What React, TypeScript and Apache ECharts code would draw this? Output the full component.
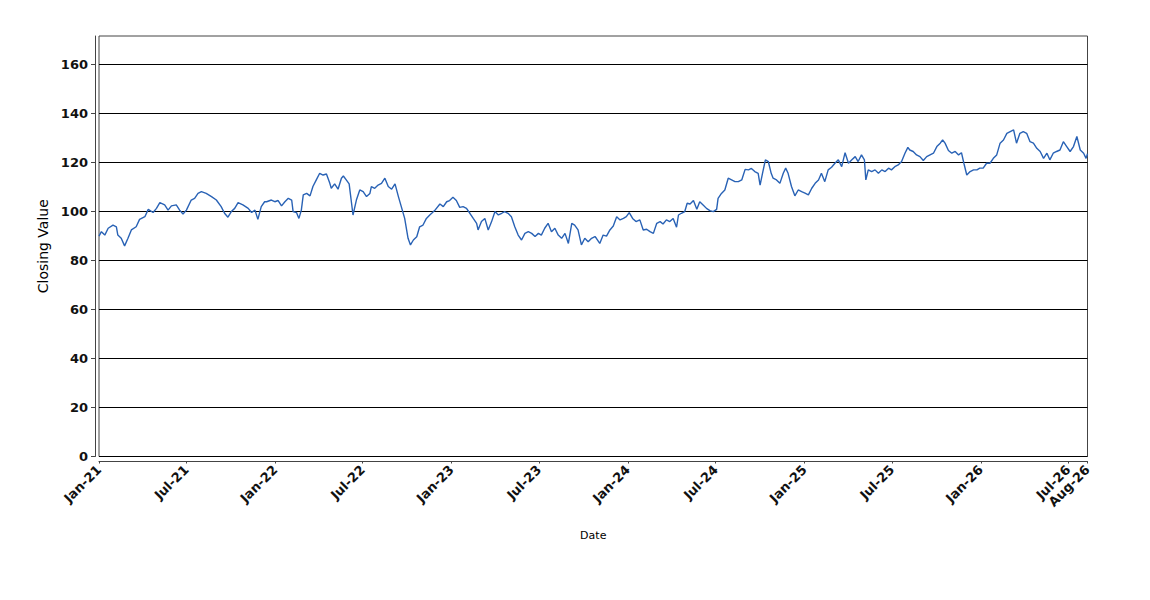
import React, { useEffect, useRef } from 'react';
import * as echarts from 'echarts';

const dates: string[] = [
  '2021-01-01','2021-01-06','2021-01-13','2021-01-20','2021-01-30','2021-02-06','2021-02-09','2021-02-16','2021-02-23','2021-03-02',
  '2021-03-09','2021-03-19','2021-03-26','2021-04-06','2021-04-13','2021-04-23','2021-04-30','2021-05-07','2021-05-17','2021-05-24',
  '2021-05-31','2021-06-10','2021-06-17','2021-06-24','2021-07-01','2021-07-11','2021-07-18','2021-07-25','2021-08-01','2021-08-11',
  '2021-08-22','2021-09-01','2021-09-11','2021-09-18','2021-09-25','2021-10-02','2021-10-09','2021-10-16','2021-10-26','2021-11-06',
  '2021-11-13','2021-11-20','2021-11-26','2021-12-03','2021-12-10','2021-12-14','2021-12-24','2021-12-31','2022-01-07','2022-01-14',
  '2022-01-21','2022-01-28','2022-02-04','2022-02-07','2022-02-14','2022-02-19','2022-02-24','2022-02-28','2022-03-07','2022-03-14',
  '2022-03-20','2022-03-27','2022-04-03','2022-04-10','2022-04-17','2022-04-24','2022-04-27','2022-05-04','2022-05-11','2022-05-18',
  '2022-05-22','2022-05-28','2022-06-03','2022-06-08','2022-06-11','2022-06-18','2022-06-25','2022-07-02','2022-07-09','2022-07-16',
  '2022-07-19','2022-07-26','2022-08-02','2022-08-09','2022-08-16','2022-08-23','2022-08-30','2022-09-06','2022-09-13','2022-09-19',
  '2022-09-26','2022-10-03','2022-10-08','2022-10-14','2022-10-21','2022-10-27','2022-11-03','2022-11-10','2022-11-17','2022-11-21',
  '2022-11-27','2022-12-08','2022-12-15','2022-12-22','2022-12-28','2023-01-04','2023-01-11','2023-01-18','2023-01-25','2023-02-01',
  '2023-02-08','2023-02-15','2023-02-22','2023-02-25','2023-03-04','2023-03-11','2023-03-18','2023-03-25','2023-04-01','2023-04-08',
  '2023-04-15','2023-04-21','2023-04-28','2023-05-05','2023-05-12','2023-05-19','2023-05-26','2023-06-02','2023-06-09','2023-06-16',
  '2023-06-23','2023-06-30','2023-07-06','2023-07-13','2023-07-20','2023-07-27','2023-08-03','2023-08-10','2023-08-17','2023-08-24',
  '2023-08-31','2023-09-07','2023-09-13','2023-09-20','2023-09-27','2023-10-04','2023-10-11','2023-10-18','2023-10-25','2023-10-28',
  '2023-11-04','2023-11-11','2023-11-18','2023-11-25','2023-12-02','2023-12-09','2023-12-16','2023-12-23','2023-12-29','2024-01-04',
  '2024-01-11','2024-01-18','2024-01-26','2024-02-02','2024-02-09','2024-02-16','2024-02-23','2024-03-01','2024-03-08','2024-03-14',
  '2024-03-21','2024-03-28','2024-04-04','2024-04-11','2024-04-15','2024-04-21','2024-04-28','2024-05-03','2024-05-09','2024-05-16',
  '2024-05-23','2024-05-29','2024-06-05','2024-06-12','2024-06-19','2024-06-26','2024-07-03','2024-07-06','2024-07-13','2024-07-20',
  '2024-07-27','2024-08-03','2024-08-10','2024-08-17','2024-08-24','2024-08-31','2024-09-07','2024-09-13','2024-09-20','2024-09-27',
  '2024-10-01','2024-10-06','2024-10-12','2024-10-18','2024-10-24','2024-10-28','2024-11-04','2024-11-11','2024-11-18','2024-11-23',
  '2024-11-28','2024-12-05','2024-12-12','2024-12-19','2024-12-26','2025-01-02','2025-01-09','2025-01-16','2025-01-23','2025-01-30',
  '2025-02-05','2025-02-12','2025-02-19','2025-02-26','2025-03-05','2025-03-12','2025-03-19','2025-03-26','2025-04-02','2025-04-09',
  '2025-04-16','2025-04-22','2025-04-29','2025-05-05','2025-05-08','2025-05-13','2025-05-20','2025-05-27','2025-06-03','2025-06-10',
  '2025-06-17','2025-06-24','2025-06-30','2025-07-07','2025-07-14','2025-07-21','2025-07-28','2025-08-03','2025-08-07','2025-08-14',
  '2025-08-21','2025-08-28','2025-09-04','2025-09-11','2025-09-18','2025-09-25','2025-10-02','2025-10-09','2025-10-14','2025-10-19',
  '2025-10-26','2025-11-02','2025-11-09','2025-11-16','2025-11-22','2025-11-27','2025-12-03','2025-12-10','2025-12-17','2025-12-24',
  '2025-12-30','2026-01-06','2026-01-13','2026-01-20','2026-01-27','2026-02-03','2026-02-10','2026-02-17','2026-02-24','2026-03-03',
  '2026-03-10','2026-03-16','2026-03-23','2026-03-30','2026-04-06','2026-04-13','2026-04-20','2026-04-27','2026-05-04','2026-05-11',
  '2026-05-18','2026-05-24','2026-05-31','2026-06-07','2026-06-14','2026-06-21','2026-06-28','2026-07-05','2026-07-12','2026-07-19',
  '2026-07-26','2026-08-02','2026-08-07','2026-08-10'
];

const closes: number[] = [
  89.9, 91.7, 90.3, 93.1, 94.4, 93.7, 90.3, 89.0, 85.9, 89.0,
  92.4, 93.7, 96.7, 97.8, 100.8, 99.5, 101.2, 103.5, 102.6, 100.5,
  102.2, 102.6, 100.5, 98.9, 100.5, 104.6, 105.3, 107.3, 108.0, 107.3,
  106.0, 104.6, 101.9, 99.2, 97.6, 99.9, 101.2, 103.5, 102.6, 101.2,
  99.5, 100.5, 96.7, 101.9, 103.9, 103.9, 104.6, 103.9, 104.4, 102.2,
  103.9, 105.3, 104.6, 99.9, 99.5, 97.1, 100.5, 106.7, 107.3, 106.3,
  110.1, 112.8, 115.5, 114.8, 115.2, 111.4, 109.4, 111.2, 109.0, 113.5,
  114.4, 112.8, 111.2, 103.3, 98.5, 104.6, 108.7, 108.0, 106.0, 107.3,
  110.1, 109.4, 110.7, 111.4, 113.5, 110.1, 109.0, 111.2, 106.0, 101.9,
  97.1, 89.0, 86.3, 88.3, 89.6, 93.7, 94.4, 97.1, 98.5, 99.2,
  100.3, 103.0, 101.9, 103.9, 104.4, 105.7, 104.4, 101.6, 101.9, 101.2,
  99.2, 97.1, 95.1, 92.4, 95.8, 97.1, 92.4, 95.8, 99.9, 98.5,
  99.2, 99.9, 99.2, 97.8, 93.7, 90.3, 88.3, 91.0, 91.7, 91.0,
  89.7, 91.0, 90.3, 93.1, 95.1, 91.7, 93.1, 90.3, 89.0, 91.0,
  86.9, 95.1, 94.4, 92.4, 86.3, 89.0, 87.6, 89.0, 89.7, 89.0,
  86.9, 90.3, 89.9, 92.4, 94.0, 97.8, 96.5, 97.1, 97.8, 99.5,
  97.1, 95.8, 96.5, 92.4, 92.7, 91.7, 91.0, 95.1, 95.8, 94.8,
  96.5, 95.8, 97.1, 93.5, 98.5, 99.2, 99.9, 103.3, 103.0, 104.4,
  100.8, 103.9, 102.6, 101.2, 100.3, 99.9, 100.8, 105.3, 107.3, 108.7,
  113.5, 112.8, 112.1, 112.1, 112.8, 117.1, 116.9, 117.5, 116.2, 115.5,
  110.7, 115.5, 121.0, 120.3, 115.5, 113.5, 112.8, 111.4, 115.5, 117.6,
  115.5, 110.1, 106.3, 108.7, 108.0, 107.4, 106.7, 109.4, 111.4, 112.8,
  115.5, 112.1, 116.9, 118.0, 119.6, 121.0, 118.2, 123.9, 119.6, 121.0,
  122.3, 120.3, 123.0, 121.0, 112.8, 116.9, 116.2, 116.9, 115.5, 116.9,
  116.2, 117.6, 116.9, 118.2, 118.9, 120.3, 123.7, 126.1, 125.0, 124.4,
  123.0, 122.3, 120.7, 122.3, 123.0, 123.7, 126.4, 127.8, 129.1, 127.8,
  124.8, 123.7, 124.4, 123.0, 123.9, 119.6, 114.8, 116.2, 116.9, 116.9,
  117.6, 117.6, 119.6, 119.6, 121.6, 123.0, 127.8, 129.1, 131.8, 132.5,
  133.2, 127.8, 131.8, 132.5, 131.8, 128.4, 127.8, 125.7, 124.4, 121.6,
  123.7, 121.0, 123.7, 124.4, 125.0, 128.4, 126.4, 124.4, 126.4, 130.5,
  125.0, 123.7, 121.6, 123.5
];

const xTickDates: string[] = [
  '2021-01-01','2021-07-01','2022-01-01','2022-07-01','2023-01-01','2023-07-01',
  '2024-01-01','2024-07-01','2025-01-01','2025-07-01','2026-01-01','2026-07-01','2026-08-10'
];
const xTickLabels: string[] = [
  'Jan-21','Jul-21','Jan-22','Jul-22','Jan-23','Jul-23',
  'Jan-24','Jul-24','Jan-25','Jul-25','Jan-26','Jul-26','Aug-26'
];
const yTicks: number[] = [0, 20, 40, 60, 80, 100, 120, 140, 160];
const Y_MAX = 171.5;
const X_MIN = '2021-01-01';
const X_MAX = '2026-08-10';

function toTime(s: string): number {
  const [y, m, d] = s.split('-').map(Number);
  return Date.UTC(y, m - 1, d);
}

export default function App() {
  const ref = useRef<HTMLDivElement>(null);

  useEffect(() => {
    document.body.style.margin = '0';
    if (!ref.current) return;
    const chart = echarts.init(ref.current, undefined, { renderer: 'svg' });
    const tickTimes = xTickDates.map(toTime);
    const labelMap = new Map<number, string>();
    tickTimes.forEach((t, i) => labelMap.set(t, xTickLabels[i]));
    const xMin = toTime(X_MIN);
    const xMax = toTime(X_MAX);
    const innerLabelTimes = tickTimes.filter((t) => t !== xMax);
    const data = dates.map((d, i) => [toTime(d), closes[i]]);
    const axisColor = '#444';
    const font = 'DejaVu Sans';
    const tickLabelStyle = {
      rotate: 45,
      margin: 6,
      fontFamily: font,
      fontSize: 13,
      fontWeight: 'bold' as const,
      color: '#111',
      hideOverlap: false,
      formatter: (v: number) => labelMap.get(v) ?? '',
    };

    chart.setOption({
      animation: false,
      backgroundColor: '#ffffff',
      grid: {
        left: 99,
        top: 36,
        right: 62.5,
        bottom: 143.5,
        show: true,
        borderColor: axisColor,
        borderWidth: 1,
        backgroundColor: '#ffffff',
      },
      xAxis: [
        {
          type: 'value',
          min: xMin,
          max: xMax,
          offset: 5,
          name: 'Date',
          nameLocation: 'middle',
          nameGap: 68,
          nameTextStyle: { fontFamily: font, fontSize: 11, color: '#000' },
          axisLine: { show: true, onZero: false, lineStyle: { color: axisColor, width: 1 } },
          axisTick: { show: true, length: 2, customValues: tickTimes, lineStyle: { color: axisColor } },
          axisLabel: { ...tickLabelStyle, customValues: innerLabelTimes },
          splitLine: { show: false },
        },
        {
          type: 'value',
          min: xMin,
          max: xMax,
          position: 'bottom',
          offset: 5,
          axisLine: { show: false },
          axisTick: { show: false },
          axisLabel: { ...tickLabelStyle, customValues: [xMax], showMaxLabel: true },
          splitLine: { show: false },
        },
      ],
      yAxis: {
        type: 'value',
        min: 0,
        max: Y_MAX,
        interval: 20,
        offset: 4,
        name: 'Closing Value',
        nameLocation: 'middle',
        nameGap: 38,
        nameRotate: 90,
        nameTextStyle: { fontFamily: font, fontSize: 14, color: '#000' },
        axisLine: { show: true, lineStyle: { color: axisColor, width: 1 } },
        axisTick: { show: true, length: 4, customValues: yTicks, lineStyle: { color: axisColor } },
        axisLabel: {
          customValues: yTicks,
          margin: 7,
          fontFamily: font,
          fontSize: 13,
          fontWeight: 'bold',
          color: '#111',
        },
        splitLine: { show: true, lineStyle: { color: '#000', width: 1 } },
      },
      series: [
        {
          type: 'line',
          xAxisIndex: 0,
          data,
          showSymbol: false,
          symbol: 'none',
          silent: true,
          lineStyle: { color: '#2962b5', width: 1.4 },
          itemStyle: { color: '#2962b5' },
        },
      ],
    });
    return () => chart.dispose();
  }, []);

  return <div ref={ref} style={{ width: 1150, height: 600 }} />;
}
